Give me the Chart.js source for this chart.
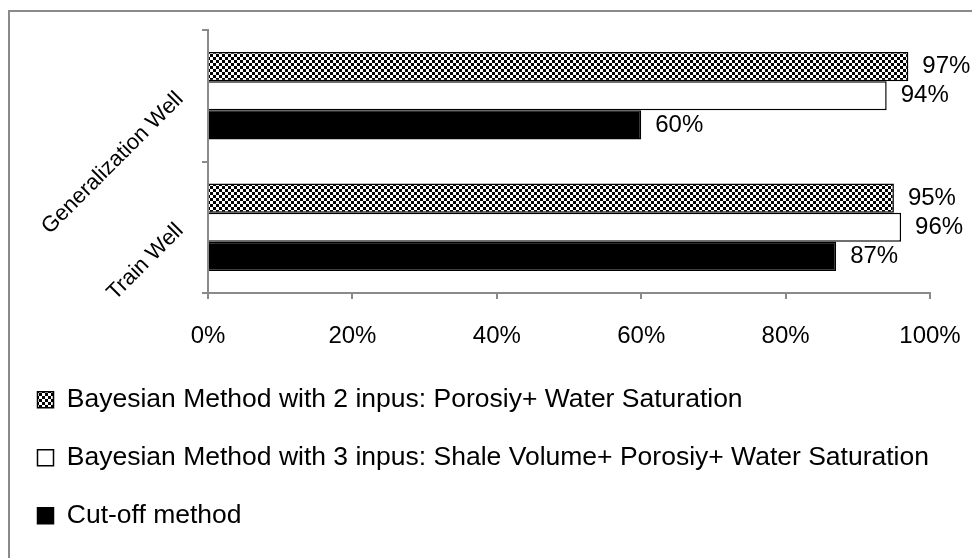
<!DOCTYPE html>
<html lang="en">
<head>
    <meta charset="UTF-8">
    <title>Well classification accuracy</title>
    <script src="https://cdn.jsdelivr.net/npm/chart.js"></script>
    <style>
        html, body { margin: 0; padding: 0; background: #fff; overflow: hidden; }
        #frame { position: absolute; left: 8px; top: 10px; width: 1000px; height: 600px; border-left: 2px solid #8a8a8a; border-top: 2px solid #8a8a8a; }
        #wrap { position: absolute; left: 0; top: 0; width: 972px; height: 558px; }
    </style>
</head>
<body>
    <div id="frame"></div>
    <div id="wrap"><canvas id="grafica"></canvas></div>
    <script>
        const wells = ['Generalization Well', 'Train Well'];
        const seriesNames = [
            'Bayesian Method with 2 inpus: Porosiy+ Water Saturation',
            'Bayesian Method with 3 inpus: Shale Volume+ Porosiy+ Water Saturation',
            'Cut-off method'
        ];
        const bayes2 = [97, 95];
        const bayes3 = [94, 96];
        const cutoff = [60, 87];
        const xTicks = [0, 20, 40, 60, 80, 100];

        const FONT = "Arial, 'Liberation Sans', sans-serif";
        const GRAY = '#8a8a8a';

        // checker tile for the first series
        const tile = document.createElement('canvas');
        tile.width = 6; tile.height = 6;
        const tc = tile.getContext('2d');
        tc.fillStyle = '#fff'; tc.fillRect(0, 0, 6, 6);
        tc.fillStyle = '#000'; tc.fillRect(0, 0, 3, 3); tc.fillRect(3, 3, 3, 3);
        const checker = tc.createPattern(tile, 'repeat');

        const barLabels = {
            id: 'barLabels',
            afterDatasetsDraw(chart) {
                const ctx = chart.ctx;
                ctx.save();
                ctx.font = '24px ' + FONT;
                ctx.fillStyle = '#000';
                ctx.textAlign = 'left';
                ctx.textBaseline = 'middle';
                chart.data.datasets.forEach((ds, i) => {
                    chart.getDatasetMeta(i).data.forEach((bar, j) => {
                        ctx.fillText(ds.data[j] + '%', bar.x + 14, bar.y);
                    });
                });
                ctx.restore();
            }
        };

        new Chart(document.getElementById('grafica'), {
            type: 'bar',
            data: {
                labels: wells,
                datasets: [
                    { label: seriesNames[0], data: bayes2, backgroundColor: checker, borderColor: '#000', borderWidth: 1.5 },
                    { label: seriesNames[1], data: bayes3, backgroundColor: '#fff', borderColor: '#000', borderWidth: 1.5 },
                    { label: seriesNames[2], data: cutoff, backgroundColor: '#000', borderColor: '#000', borderWidth: 1.5 }
                ]
            },
            options: {
                indexAxis: 'y',
                responsive: true,
                maintainAspectRatio: false,
                animation: false,
                layout: { padding: { top: 30, right: 42, bottom: 19, left: 6 } },
                datasets: { bar: { categoryPercentage: 0.667, barPercentage: 1 } },
                scales: {
                    x: {
                        min: 0, max: 100,
                        afterBuildTicks: s => { s.ticks = xTicks.map(v => ({ value: v })); },
                        afterFit: s => { s.height = 62; s.paddingLeft = 0; s.paddingRight = 0; },
                        ticks: { callback: v => v + '%', color: '#000', padding: 23, font: { family: FONT, size: 24 }, maxRotation: 0 },
                        grid: { drawOnChartArea: false, tickLength: 6, color: GRAY, lineWidth: 2 },
                        border: { color: GRAY, width: 2 }
                    },
                    y: {
                        afterFit: s => { s.width = 202; s.paddingTop = 0; s.paddingBottom = 0; },
                        ticks: { color: '#000', padding: 22, minRotation: 45, maxRotation: 45, font: { family: FONT, size: 22 } },
                        grid: { drawOnChartArea: false, tickLength: 6, color: GRAY, lineWidth: 2 },
                        border: { color: GRAY, width: 2 }
                    }
                },
                plugins: {
                    tooltip: { enabled: false },
                    legend: {
                        position: 'bottom',
                        align: 'start',
                        labels: { color: '#000', boxWidth: 16, boxHeight: 16, padding: 31.5, font: { family: FONT, size: 26.5 } }
                    }
                }
            },
            plugins: [barLabels]
        });
    </script>
</body>
</html>
